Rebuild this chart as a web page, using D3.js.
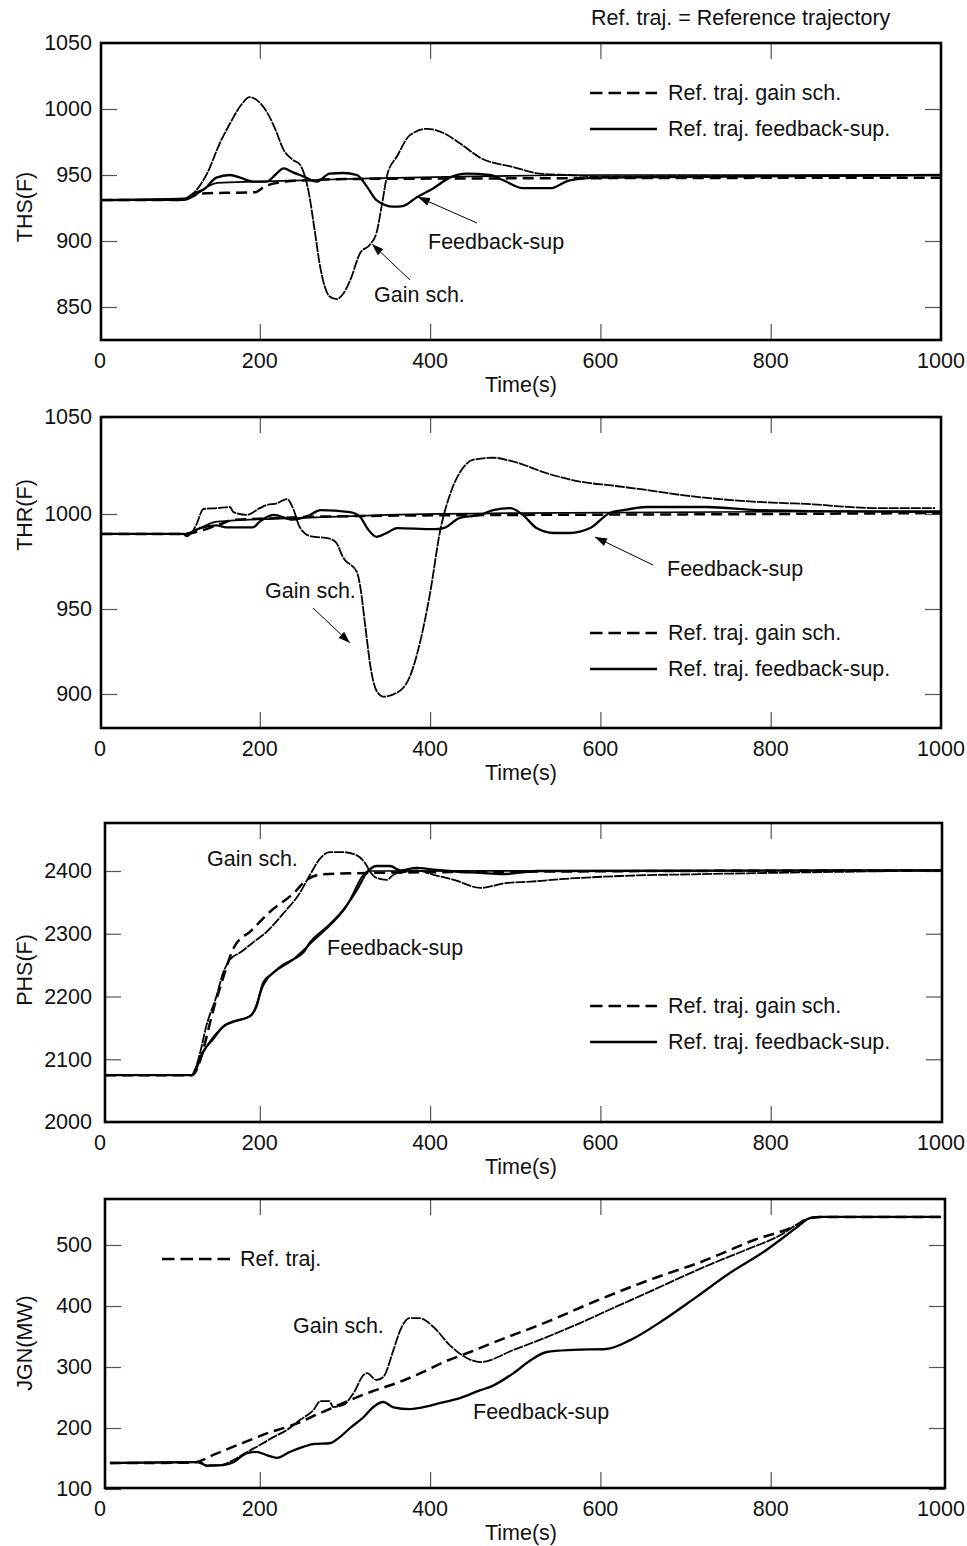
<!DOCTYPE html>
<html>
<head>
<meta charset="utf-8">
<script src="https://cdn.jsdelivr.net/npm/d3@7"></script>
<style>
  body { margin: 0; background: #fff; }
  text { font-family: "Liberation Sans", Arial, Helvetica, sans-serif; fill: #111; }
</style>
</head>
<body>
<div id="canvas"></div>
<script>
// tick labels
var xTickLabels = [0, 200, 400, 600, 800, 1000];
var xInnerTicks = [200, 400, 600, 800];
var thsTicks = [850, 900, 950, 1000, 1050];
var thrTicks = [900, 950, 1000, 1050];
var phsTicks = [2000, 2100, 2200, 2300, 2400];
var jgnTicks = [100, 200, 300, 400, 500];

// THS(F)  [time, value]
var thsGain = [[14,931],[110,931],[122,936],[138,951],[153,974],[165,989],[178,1003],[188,1009],[198,1006],[208,998],[218,985],[228,969],[240,961],[247,958],[253,949],[258,935],[264,910],[271,880],[282,858],[290,856],[298,860],[306,870],[318,891],[329,897],[337,906],[343,926],[350,951],[361,964],[376,980],[396,985],[415,982],[435,974],[459,963],[498,956],[529,951],[561,950],[600,949],[1000,950]];
var thsFb = [[14,931],[112,932],[122,936],[134,939],[149,948],[165,950],[177,948],[192,945],[208,945],[218,950],[228,955],[239,952],[251,949],[267,945],[282,951],[298,951.5],[314,950],[326,941],[337,931],[357,926],[368,926.5],[384,933],[404,940],[423,948],[443,951],[470,950],[486,946],[509,940],[541,940],[564,946],[600,948],[1000,950]];
var thsRefGain = [[14,931],[110,931],[118,933],[130,936],[195,937],[205,941],[230,945],[260,946],[300,947],[1000,948]];
var thsRefFb = [[14,931],[110,931],[150,944],[200,945],[250,946],[330,947.5],[450,949],[600,950],[1000,950]];

// THR(F)
var thrGain = [[14,989.5],[118,989.5],[125,994],[134,1002.6],[150,1003],[165,1003.6],[169,1001],[185,999.5],[200,1003],[208,1004.6],[220,1005.5],[232,1007.7],[239,1003],[247,993],[259,988.4],[282,987],[290,984.7],[298,977],[314,969.5],[318,961.6],[324,939.4],[330,916],[337,902],[345,898.4],[365,902],[376,910],[388,930],[400,958.4],[412,991.6],[424,1010.8],[439,1024],[451,1028],[474,1029],[498,1027],[537,1021],[576,1016.7],[615,1014.6],[654,1012.4],[693,1009.9],[732,1008],[771,1006.6],[811,1005.7],[850,1005],[889,1003.7],[928,1003],[993,1003]];
var thrFb = [[14,989.5],[110,989.5],[114,988.4],[122,991],[130,992.6],[149,994],[161,993],[192,993],[200,996],[216,999.5],[239,997],[259,999.5],[271,1002],[306,1001],[318,998.4],[326,992.6],[337,988],[349,990],[361,992.6],[404,992],[416,992.6],[435,998],[459,999.5],[474,1002],[494,1003],[509,999.5],[525,992.6],[545,990],[564,990],[588,992.6],[611,1000.5],[627,1002],[654,1003.6],[725,1003.6],[784,1002],[850,1001.5],[1000,1001]];
var thrRefGain = [[14,989.5],[110,989.5],[150,994],[170,997],[200,997.5],[260,998.5],[330,999],[500,999.5],[700,999.8],[1000,1000.5]];
var thrRefFb = [[14,989.5],[110,989.5],[150,996],[250,998],[350,999.5],[500,1000.5],[1000,1001.5]];

// PHS(F)
var phsGain = [[18,2074.6],[120,2074.6],[130,2111],[137,2152],[149,2200],[157,2238],[165,2259],[177,2270],[192,2286],[208,2303],[228,2333],[247,2365],[259,2394],[271,2420],[282,2430],[298,2430],[314,2425],[324,2412],[330,2398],[337,2389],[349,2386],[357,2394],[368,2398],[384,2401],[404,2394],[430,2385],[459,2373],[490,2381],[518,2383],[553,2387],[623,2392],[717,2395],[850,2398],[1000,2401]];
var phsFb = [[18,2074.6],[120,2074.6],[126,2089],[134,2113],[145,2132],[157,2152],[169,2160],[188,2168],[196,2184],[204,2222],[216,2238],[228,2251],[239,2259],[251,2270],[259,2286],[279,2311],[298,2338],[314,2370],[326,2398],[337,2408],[353,2408],[365,2401],[384,2405],[404,2402],[459,2397],[486,2395],[525,2400],[1000,2401]];
var phsRefGain = [[18,2074.6],[120,2074.6],[150,2200],[170,2279],[190,2305],[212,2335],[240,2365],[255,2386],[275,2395],[400,2398],[1000,2401]];
var phsRefFb = [[18,2074.6],[120,2074.6],[135,2115],[160,2155],[190,2170],[205,2220],[240,2260],[260,2285],[300,2340],[328,2400],[1000,2401]];

// JGN(MW)
var jgnGain = [[24,142.6],[126,144],[137,139],[153,139],[169,147.5],[185,160.7],[200,172],[216,185],[232,197],[247,213],[263,229.5],[271,244],[282,244],[286,234.4],[298,237.7],[310,257],[322,287],[326,290],[337,278.7],[345,283.6],[357,328],[365,360.6],[376,380],[388,380],[404,365.6],[423,336],[443,314.8],[459,308],[498,328],[537,349],[576,372],[615,396.7],[654,421],[693,446],[732,470],[771,492],[811,516],[834,536],[846,544],[860,546],[1000,546]];
var jgnFb = [[24,142.6],[130,144],[137,138],[157,139],[169,144],[185,159],[196,160.7],[208,155.7],[220,151],[235,160.7],[251,169],[263,173.8],[282,175],[294,185],[306,200],[322,218],[333,234],[345,242.6],[357,234],[376,231],[388,233],[412,241],[435,249],[459,262],[470,267],[498,290],[518,311],[537,324.6],[568,328],[607,329.5],[635,344],[674,377],[713,415],[752,454],[791,488],[830,528],[846,544],[860,546],[1000,546]];
var jgnRef = [[24,142.6],[120,143],[149,158],[177,173.8],[212,193],[239,205],[271,224.6],[330,259],[361,273.8],[392,292],[416,308],[447,324.6],[467,336],[541,376],[596,409],[662,445],[719,472.6],[782,509],[826,529.5],[846,544],[860,546],[1000,546]];

var W = 967, H = 1546;
var svg = d3.select("#canvas").append("svg").attr("width", W).attr("height", H);
svg.append("rect").attr("width", W).attr("height", H).attr("fill", "#fff");

var x = d3.scaleLinear().domain([0, 1000]).range([89.5, 941]);

// line looks
var styles = {
  gain:    { w: 1.8, dash: "10,1" },
  fb:      { w: 2.3, dash: null },
  refGain: { w: 2.5, dash: "11,6" },
  refFb:   { w: 1.7, dash: null }
};

var panels = [
  { name: "THS(F)", left: 101, right: 941, top: 43, bottom: 340,
    y: d3.scaleLinear().domain([850, 1050]).range([307, 43]),
    ticks: thsTicks, labelY: 207,
    series: [["refGain", thsRefGain], ["refFb", thsRefFb], ["gain", thsGain], ["fb", thsFb]] },
  { name: "THR(F)", left: 101, right: 941, top: 417, bottom: 728,
    y: d3.scaleLinear().domain([900, 950, 1000, 1050]).range([694, 609, 514, 417]),
    ticks: thrTicks, labelY: 515,
    series: [["refGain", thrRefGain], ["refFb", thrRefFb], ["gain", thrGain], ["fb", thrFb]] },
  { name: "PHS(F)", left: 105, right: 942, top: 823, bottom: 1122,
    y: d3.scaleLinear().domain([2000, 2400]).range([1122, 871]),
    ticks: phsTicks, labelY: 970,
    series: [["refGain", phsRefGain], ["refFb", phsRefFb], ["gain", phsGain], ["fb", phsFb]] },
  { name: "JGN(MW)", left: 105, right: 945, top: 1199, bottom: 1488,
    y: d3.scaleLinear().domain([100, 500]).range([1489, 1245]),
    ticks: jgnTicks, labelY: 1343,
    series: [["refGain", jgnRef], ["gain", jgnGain], ["fb", jgnFb]] }
];

var FS = 21.5;

svg.append("text").attr("x", 591).attr("y", 25).attr("font-size", FS)
  .text("Ref. traj. = Reference trajectory");

panels.forEach(function(p) {
  var g = svg.append("g");
  var y = p.y;

  // inner tick marks and y labels
  var yl = g.append("g").attr("transform", "translate(" + p.left + ",0)")
    .call(d3.axisLeft(y).tickValues(p.ticks).tickFormat(d3.format("d"))
      .tickSizeInner(-16).tickSizeOuter(0).tickPadding(p.left - 92));
  var yr = g.append("g").attr("transform", "translate(" + p.right + ",0)")
    .call(d3.axisRight(y).tickValues(p.ticks).tickSizeInner(-16).tickSizeOuter(0).tickFormat(""));
  var xb = g.append("g").attr("transform", "translate(0," + p.bottom + ")")
    .call(d3.axisBottom(x).tickValues(xInnerTicks).tickSizeInner(-16).tickSizeOuter(0).tickFormat(""));
  var xt = g.append("g").attr("transform", "translate(0," + p.top + ")")
    .call(d3.axisTop(x).tickValues(xInnerTicks).tickSizeInner(-16).tickSizeOuter(0).tickFormat(""));
  [yl, yr, xb, xt].forEach(function(a) {
    a.select(".domain").remove();
    a.selectAll(".tick line").attr("stroke", "#555").attr("stroke-width", 1.2);
  });
  yl.selectAll(".tick text").attr("font-size", FS).attr("fill", "#111")
    .attr("font-family", "Liberation Sans, Arial, sans-serif");

  // x labels, the 0 sits at the frame corner
  g.selectAll(".xl").data(xTickLabels).enter().append("text")
    .attr("x", function(d) { return d === 0 ? 100 : x(d); })
    .attr("y", p.bottom + 28)
    .attr("text-anchor", "middle").attr("font-size", FS)
    .text(function(d) { return d; });

  g.append("text").attr("x", 521).attr("y", p.bottom + 52)
    .attr("text-anchor", "middle").attr("font-size", FS).text("Time(s)");

  g.append("text").attr("transform", "translate(32," + p.labelY + ") rotate(-90)")
    .attr("text-anchor", "middle").attr("font-size", FS).text(p.name);

  var line = d3.line()
    .x(function(d) { return x(d[0]); })
    .y(function(d) { return y(d[1]); })
    .curve(d3.curveMonotoneX);

  p.series.forEach(function(s) {
    var st = styles[s[0]];
    g.append("path").datum(s[1])
      .attr("d", line)
      .attr("fill", "none")
      .attr("stroke", "#000")
      .attr("stroke-width", st.w)
      .attr("stroke-linejoin", "round")
      .attr("stroke-dasharray", st.dash);
  });

  g.append("rect").attr("x", p.left).attr("y", p.top)
    .attr("width", p.right - p.left).attr("height", p.bottom - p.top)
    .attr("fill", "none").attr("stroke", "#000").attr("stroke-width", 2.6);
});

// legends
function legendEntry(x0, yy, kind, label) {
  svg.append("line").attr("x1", x0).attr("x2", x0 + 67).attr("y1", yy).attr("y2", yy)
    .attr("stroke", "#000").attr("stroke-width", 2.4)
    .attr("stroke-dasharray", kind === "dash" ? "12.5,6" : null);
  svg.append("text").attr("x", x0 + 78).attr("y", yy + 7).attr("font-size", FS).text(label);
}
legendEntry(590, 93, "dash", "Ref. traj. gain sch.");
legendEntry(590, 129, "solid", "Ref. traj. feedback-sup.");
legendEntry(590, 633, "dash", "Ref. traj. gain sch.");
legendEntry(590, 669, "solid", "Ref. traj. feedback-sup.");
legendEntry(590, 1006, "dash", "Ref. traj. gain sch.");
legendEntry(590, 1042, "solid", "Ref. traj. feedback-sup.");
svg.append("line").attr("x1", 162).attr("x2", 230).attr("y1", 1259).attr("y2", 1259)
  .attr("stroke", "#000").attr("stroke-width", 2.4).attr("stroke-dasharray", "12.5,6");
svg.append("text").attr("x", 240).attr("y", 1266).attr("font-size", FS).text("Ref. traj.");

// annotations
svg.append("defs").append("marker")
  .attr("id", "arr").attr("viewBox", "0 0 10 10").attr("refX", 10).attr("refY", 5)
  .attr("markerWidth", 12).attr("markerHeight", 12).attr("markerUnits", "userSpaceOnUse")
  .attr("orient", "auto")
  .append("path").attr("d", "M0,1.5L10,5L0,8.5Z").attr("fill", "#000");

function note(tx, ty, label, ax1, ay1, ax2, ay2) {
  svg.append("text").attr("x", tx).attr("y", ty).attr("font-size", FS).text(label);
  if (ax1 != null) {
    svg.append("line").attr("x1", ax1).attr("y1", ay1).attr("x2", ax2).attr("y2", ay2)
      .attr("stroke", "#000").attr("stroke-width", 1).attr("marker-end", "url(#arr)");
  }
}
note(428, 249, "Feedback-sup", 477, 223, 418, 197);
note(374, 302, "Gain sch.", 410, 280, 372, 244);
note(265, 598, "Gain sch.", 313, 608, 350, 643);
note(667, 576, "Feedback-sup", 653, 565, 595, 537);
note(207, 866, "Gain sch.");
note(327, 955, "Feedback-sup");
note(293, 1333, "Gain sch.");
note(473, 1419, "Feedback-sup");
</script>
</body>
</html>
